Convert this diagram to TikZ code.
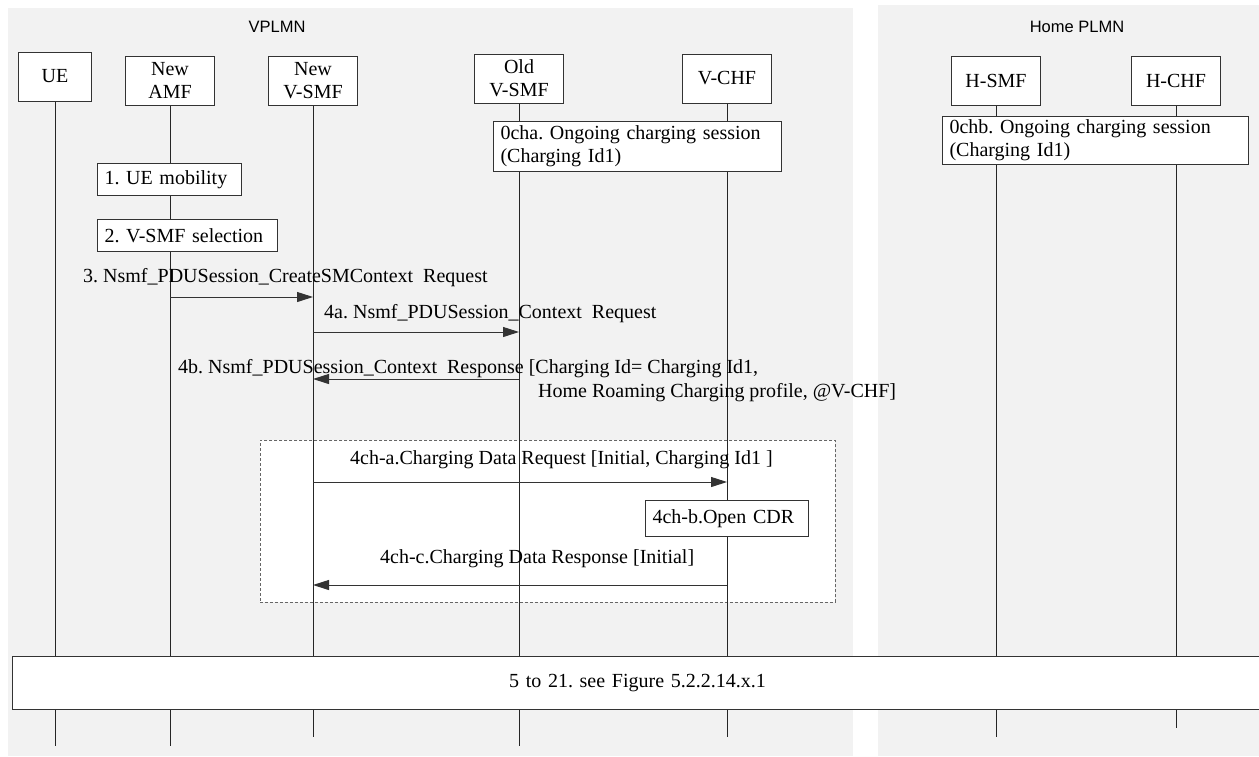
\documentclass[tikz,border=0pt]{standalone}
\usepackage{fontspec}
\setmainfont{Liberation Serif}
\setsansfont{Liberation Sans}
\usetikzlibrary{arrows.meta,positioning}
\definecolor{panelgrey}{HTML}{F2F2F2}
\definecolor{linegrey}{HTML}{333333}
\definecolor{dashgrey}{HTML}{666666}
\frenchspacing

\begin{document}
\begin{tikzpicture}[
  x=1pt, y=-1pt,
  font=\fontsize{20}{23}\selectfont,
  >={Triangle[length=16pt,width=10pt]},
  panelbox/.style={
    fill=panelgrey,
    draw=none
  },
  zonetitle/.style={
    font=\sffamily\fontsize{16.5}{19}\selectfont
  },
  entitybox/.style={
    draw=linegrey,
    fill=white,
    line width=1pt,
    align=center,
    minimum width=89pt,
    minimum height=49pt,
    inner sep=1pt
  },
  actionbox/.style={
    draw=linegrey,
    fill=white,
    line width=1pt,
    align=left,
    anchor=north west,
    inner xsep=7pt,
    inner ysep=0pt
  },
  lifeline/.style={
    line width=1pt,
    draw=black!85
  },
  msgarrow/.style={
    ->,
    line width=1pt,
    draw=linegrey
  },
  msgtext/.style={
    anchor=base west,
    inner sep=0pt
  }
]
  \useasboundingbox (0,0) rectangle (1259,756);

  % Network zones
  \fill[panelbox] (8,8) rectangle (853,756);
  \fill[panelbox] (878,5) rectangle (1259,756);
  \node[zonetitle] (vplmn) at (277,27) {VPLMN};
  \node[zonetitle] (hplmn) at (1077,27) {Home PLMN};

  % Charging sub-procedure frame
  \node[draw=dashgrey, fill=white, dash pattern=on 3pt off 2pt, line width=0.8pt,
    minimum width=575pt, minimum height=162pt, anchor=north west, inner sep=0pt] (chgframe) at (260,440) {};

  % --- Network functions ---
  \node[entitybox, minimum width=73pt] (ue) at (55,76.5) {UE};
  \node[entitybox] (amf) at (170,80.5) {New\\AMF};
  \node[entitybox] (newsmf) at (313,80.5) {New\\V-SMF};
  \node[entitybox] (oldsmf) at (519,78.5) {Old\\V-SMF};
  \node[entitybox] (vchf) at (727,78.5) {V-CHF};
  \node[entitybox] (hsmf) at (996,80.5) {H-SMF};
  \node[entitybox] (hchf) at (1176,80.5) {H-CHF};

  % Lifeline ends
  \coordinate (botlong) at (0,746);
  \coordinate (botmid) at (0,737);
  \coordinate (botshort) at (0,728);

  \draw[lifeline] (ue.south) -- (ue.south |- botlong);
  \draw[lifeline] (amf.south) -- (amf.south |- botlong);
  \draw[lifeline] (newsmf.south) -- (newsmf.south |- botmid);
  \draw[lifeline] (oldsmf.south) -- (oldsmf.south |- botlong);
  \draw[lifeline] (vchf.south) -- (vchf.south |- botmid);
  \draw[lifeline] (hsmf.south) -- (hsmf.south |- botmid);
  \draw[lifeline] (hchf.south) -- (hchf.south |- botshort);

  % --- Steps ---
  \node[actionbox, text width=274pt, minimum height=50pt] (s0a) at (493,121)
    {0cha. Ongoing charging session\\(Charging Id1)};
  \node[actionbox, text width=292pt, minimum height=48pt] (s0b) at (942,116)
    {0chb. Ongoing charging session\\(Charging Id1)};
  \node[actionbox, text width=130pt, minimum height=32pt] (s1) at (97,163) {1. UE mobility};
  \node[actionbox, text width=166pt, minimum height=32pt] (s2) at (97,219) {2. V-SMF selection};
  \node[actionbox, text width=149pt, minimum height=36pt] (s4b) at (645,500) {4ch-b.Open CDR};
  \node[actionbox, align=center, text width=1236pt, minimum height=53pt] (s5) at (12,656)
    {5 to 21. see Figure 5.2.2.14.x.1};

  % Message rows
  \coordinate (r3) at (0,297);
  \coordinate (r4a) at (0,332);
  \coordinate (r4b) at (0,379);
  \coordinate (rca) at (0,482);
  \coordinate (rcc) at (0,585);

  % --- Messages ---
  \draw[msgarrow] (amf |- r3) -- (newsmf |- r3);
  \node[msgtext] (m3) at (83,282) {3. Nsmf\_PDUSession\_CreateSMContext\ \ Request};

  \draw[msgarrow] (newsmf |- r4a) -- (oldsmf |- r4a);
  \node[msgtext] (m4a) at (324,318) {4a. Nsmf\_PDUSession\_Context\ \ Request};

  \draw[msgarrow] (oldsmf |- r4b) -- (newsmf |- r4b);
  \node[msgtext] (m4b) at (178,373) {4b. Nsmf\_PDUSession\_Context\ \ Response [Charging Id= Charging Id1,};
  \node[msgtext] (m4bx) at (538,397) {Home Roaming Charging profile, @V-CHF]};

  \draw[msgarrow] (newsmf |- rca) -- (vchf |- rca);
  \node[msgtext] (mca) at (350,464) {4ch-a.Charging Data Request [Initial, Charging Id1 ]};

  \draw[msgarrow] (vchf |- rcc) -- (newsmf |- rcc);
  \node[msgtext] (mcc) at (380,563) {4ch-c.Charging Data Response [Initial]};

\end{tikzpicture}
\end{document}
